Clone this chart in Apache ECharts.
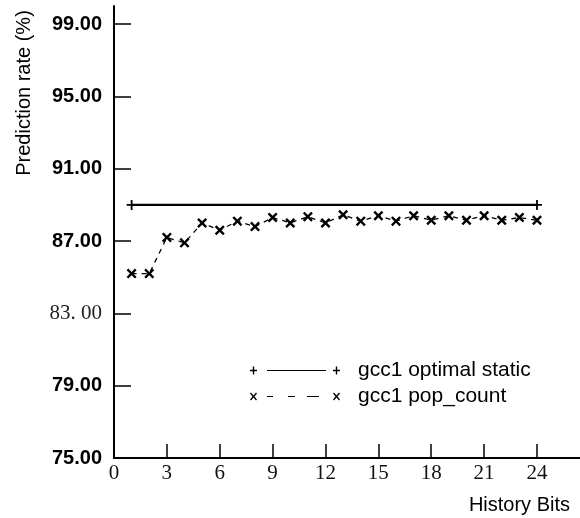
<!DOCTYPE html>
<html>
<head>
<meta charset="utf-8">
<script src="https://cdn.jsdelivr.net/npm/echarts@6/dist/echarts.min.js"></script>
<style>
html,body{margin:0;padding:0;background:#fff;}
#chart{width:580px;height:518px;}
</style>
</head>
<body>
<div id="chart"></div>
<script>
// ---- data ----
const historyBits = [1,2,3,4,5,6,7,8,9,10,11,12,13,14,15,16,17,18,19,20,21,22,23,24];
const optimalStatic = [89.0,89.0,89.0,89.0,89.0,89.0,89.0,89.0,89.0,89.0,89.0,89.0,89.0,89.0,89.0,89.0,89.0,89.0,89.0,89.0,89.0,89.0,89.0,89.0];
const popCount = [85.2,85.2,87.2,86.9,88.0,87.6,88.1,87.8,88.3,88.0,88.35,88.0,88.45,88.1,88.4,88.1,88.4,88.15,88.4,88.15,88.4,88.15,88.3,88.15];
const xTicks = [0,3,6,9,12,15,18,21,24];
const yTicks = [75,79,83,87,91,95,99];
const seriesNames = ['gcc1 optimal static','gcc1 pop_count'];

const PLUS = 'path://M4.1,0 H5.9 V4.1 H10 V5.9 H5.9 V10 H4.1 V5.9 H0 V4.1 H4.1 Z';
const CROSS = 'path://M0,1.7 L1.7,0 L5,3.3 L8.3,0 L10,1.7 L6.7,5 L10,8.3 L8.3,10 L5,6.7 L1.7,10 L0,8.3 L3.3,5 Z';
const LEG1 = 'path://M0,3.3 H7 V4.7 H0 Z M2.8,0 H4.2 V8 H2.8 Z M17,3.5 H76 V4.5 H17 Z M83,3.3 H90 V4.7 H83 Z M85.8,0 H87.2 V8 H85.8 Z';
const LEG2 = 'path://M0,1 L1,0 L3.5,2.9 L6,0 L7,1 L4.5,4 L7,7 L6,8 L3.5,5.1 L1,8 L0,7 L2.5,4 Z M17,3.4 H23 V4.6 H17 Z M38,3.6 H45 V4.4 H38 Z M57,3.4 H69 V4.6 H57 Z M83,1 L84,0 L86.5,2.9 L89,0 L90,1 L87.5,4 L90,7 L89,8 L86.5,5.1 L84,8 L83,7 L85.5,4 Z';

const chart = echarts.init(document.getElementById('chart'), null, {renderer:'canvas'});
chart.setOption({
  animation: false,
  backgroundColor: '#fff',
  grid: {left:114, right:0, top:6, bottom:60, outerBoundsMode:'none', containLabel:false},
  xAxis: {
    type:'value', min:0, max:26.44,
    axisLine:{show:true, onZero:false, lineStyle:{color:'#000', width:2}},
    axisTick:{show:true, inside:true, length:14, customValues:xTicks, lineStyle:{color:'#000', width:1.5}},
    axisLabel:{customValues:xTicks, margin:5, color:'#111', fontFamily:'Liberation Serif', fontSize:21},
    splitLine:{show:false}
  },
  yAxis: {
    type:'value', min:75, max:100,
    axisLine:{show:true, onZero:false, lineStyle:{color:'#000', width:2}},
    axisTick:{show:true, inside:true, length:17, customValues:yTicks, lineStyle:{color:'#000', width:1.5}},
    axisLabel:{
      customValues:yTicks, margin:12,
      formatter: v => v === 83 ? '{s|83. 00}' : '{b|' + v.toFixed(2) + '}',
      rich:{
        b:{fontFamily:'Liberation Sans', fontWeight:'bold', fontSize:20, color:'#000'},
        s:{fontFamily:'Liberation Serif', fontSize:21, color:'#222'}
      }
    },
    splitLine:{show:false}
  },
  legend: {
    orient:'vertical', left:245, top:355, itemWidth:90, itemHeight:8, itemGap:5,
    textStyle:{fontFamily:'Liberation Sans', fontSize:21, lineHeight:20, color:'#000', padding:[0,0,0,13]},
    data:[
      {name:seriesNames[0], icon:LEG1, itemStyle:{color:'#000', borderWidth:0}},
      {name:seriesNames[1], icon:LEG2, itemStyle:{color:'#000', borderWidth:0}}
    ]
  },
  graphic: [
    {type:'text', x:24, y:93, rotation:Math.PI/2,
     style:{text:'Prediction rate (%)', fill:'#000', font:'20px "Liberation Sans"', textAlign:'center', textVerticalAlign:'middle'}},
    {type:'text', right:10, top:495,
     style:{text:'History Bits', fill:'#000', font:'20px "Liberation Sans"'}}
  ],
  series: [
    {
      name:seriesNames[0], type:'line',
      data: historyBits.map((x,i)=>[x, optimalStatic[i]]),
      symbol:(v, p) => (p.dataIndex === 0 || p.dataIndex === historyBits.length-1) ? PLUS : 'none',
      symbolSize:10, showAllSymbol:true,
      itemStyle:{color:'#000', borderWidth:0},
      lineStyle:{color:'#000', width:2.2}
    },
    {
      name:seriesNames[1], type:'line',
      data: historyBits.map((x,i)=>[x, popCount[i]]),
      symbol:CROSS, symbolSize:10, showAllSymbol:true,
      itemStyle:{color:'#000', borderWidth:0},
      lineStyle:{color:'#000', width:1.3, type:[5,5]}
    }
  ]
});
</script>
</body>
</html>
